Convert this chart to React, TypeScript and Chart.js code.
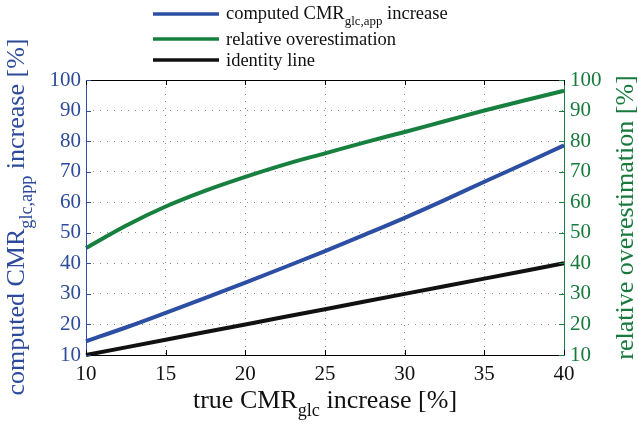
import React, { useEffect, useRef } from "react";
import { Chart, registerables } from "chart.js";

Chart.register(...registerables);

const trueIncrease = [10, 12.5, 15, 17.5, 20, 22.5, 25, 27.5, 30, 32.5, 35, 37.5, 40];
const computedIncrease = [14.5, 19.0, 23.8, 28.7, 33.7, 38.8, 44.0, 49.4, 54.9, 60.7, 66.7, 72.6, 78.6];
const relativeOverestimation = [45, 52.3, 58.6, 63.8, 68.3, 72.4, 76.0, 79.6, 83.0, 86.5, 90.0, 93.3, 96.5];
const identityLine = [10, 12.5, 15, 17.5, 20, 22.5, 25, 27.5, 30, 32.5, 35, 37.5, 40];

const xTicks = [10, 15, 20, 25, 30, 35, 40];
const yTicks = [10, 20, 30, 40, 50, 60, 70, 80, 90, 100];

const BLUE = "#2c4ea3";
const GREEN = "#17803f";
const BLUE_TXT = "#2d4b9c";
const GREEN_TXT = "#177a3c";
const FONT = "'Liberation Serif', 'Times New Roman', serif";

type Part = { t: string; sub?: boolean };

function partsWidth(ctx: CanvasRenderingContext2D, parts: Part[], size: number) {
  let w = 0;
  for (const p of parts) {
    ctx.font = `${p.sub ? size * 0.7 : size}px ${FONT}`;
    w += ctx.measureText(p.t).width;
  }
  return w;
}

function drawParts(ctx: CanvasRenderingContext2D, parts: Part[], size: number, x: number, y: number, color: string) {
  ctx.fillStyle = color;
  ctx.textBaseline = "alphabetic";
  ctx.textAlign = "left";
  let cx = x;
  for (const p of parts) {
    const s = p.sub ? size * 0.7 : size;
    ctx.font = `${s}px ${FONT}`;
    ctx.fillText(p.t, cx, p.sub ? y + size * 0.32 : y);
    cx += ctx.measureText(p.t).width;
  }
}

const decorPlugin = {
  id: "decor",
  afterDraw(chart: any) {
    const ctx: CanvasRenderingContext2D = chart.ctx;
    const { left, right, top, bottom } = chart.chartArea;
    const xs = chart.scales.x;
    const ys = chart.scales.y;
    ctx.save();
    // frame
    ctx.lineWidth = 1;
    ctx.strokeStyle = "#000";
    ctx.beginPath();
    ctx.moveTo(left, top + 0.5);
    ctx.lineTo(right, top + 0.5);
    ctx.moveTo(left, bottom + 0.5);
    ctx.lineTo(right, bottom + 0.5);
    ctx.stroke();
    ctx.strokeStyle = BLUE;
    ctx.beginPath();
    ctx.moveTo(left + 0.5, top);
    ctx.lineTo(left + 0.5, bottom + 1);
    ctx.stroke();
    ctx.strokeStyle = GREEN;
    ctx.beginPath();
    ctx.moveTo(right + 0.5, top);
    ctx.lineTo(right + 0.5, bottom + 1);
    ctx.stroke();
    // inward ticks
    const tl = 5;
    ctx.strokeStyle = "#000";
    ctx.beginPath();
    for (const v of xTicks) {
      const px = Math.round(xs.getPixelForValue(v)) + 0.5;
      ctx.moveTo(px, top);
      ctx.lineTo(px, top + tl);
      ctx.moveTo(px, bottom);
      ctx.lineTo(px, bottom - tl);
    }
    ctx.stroke();
    ctx.strokeStyle = BLUE;
    ctx.beginPath();
    for (const v of yTicks) {
      const py = Math.round(ys.getPixelForValue(v)) + 0.5;
      ctx.moveTo(left, py);
      ctx.lineTo(left + tl, py);
    }
    ctx.stroke();
    ctx.strokeStyle = GREEN;
    ctx.beginPath();
    for (const v of yTicks) {
      const py = Math.round(ys.getPixelForValue(v)) + 0.5;
      ctx.moveTo(right, py);
      ctx.lineTo(right - tl, py);
    }
    ctx.stroke();

    // legend
    const legend = [
      { color: BLUE, y: 14, base: 19, parts: [{ t: "computed CMR" }, { t: "glc,app", sub: true }, { t: " increase" }] },
      { color: GREEN, y: 39, base: 45, parts: [{ t: "relative overestimation" }] },
      { color: "#111", y: 60, base: 66, parts: [{ t: "identity line" }] },
    ];
    for (const item of legend) {
      ctx.strokeStyle = item.color;
      ctx.lineWidth = 3.5;
      ctx.beginPath();
      ctx.moveTo(153, item.y);
      ctx.lineTo(219, item.y);
      ctx.stroke();
      drawParts(ctx, item.parts as Part[], 18.5, 226, item.base, "#111");
    }

    // x title
    const xt: Part[] = [{ t: "true CMR" }, { t: "glc", sub: true }, { t: " increase [%]" }];
    const xw = partsWidth(ctx, xt, 26);
    drawParts(ctx, xt, 26, 325 - xw / 2, 408, "#111");

    // left title
    const lt: Part[] = [{ t: "computed CMR" }, { t: "glc,app", sub: true }, { t: " increase [%]" }];
    const lw = partsWidth(ctx, lt, 26);
    ctx.save();
    ctx.translate(23.5, 217);
    ctx.rotate(-Math.PI / 2);
    drawParts(ctx, lt, 26, -lw / 2, 0, BLUE_TXT);
    ctx.restore();

    // right title
    const rt: Part[] = [{ t: "relative overestimation [%]" }];
    const rw = partsWidth(ctx, rt, 26);
    ctx.save();
    ctx.translate(633, 217.5);
    ctx.rotate(-Math.PI / 2);
    drawParts(ctx, rt, 26, -rw / 2, 0, GREEN_TXT);
    ctx.restore();

    ctx.restore();
  },
};

export default function App() {
  const ref = useRef<HTMLCanvasElement | null>(null);
  useEffect(() => {
    if (!ref.current) return;
    const pts = (ys: number[]) => trueIncrease.map((x, i) => ({ x, y: ys[i] }));
    const chart = new Chart(ref.current, {
      type: "line",
      data: {
        datasets: [
          {
            label: "identity line",
            data: pts(identityLine),
            borderColor: "#111",
            borderWidth: 4,
            pointRadius: 0,
            yAxisID: "y",
            clip: 4,
          },
          {
            label: "computed CMR increase",
            data: pts(computedIncrease),
            borderColor: BLUE,
            borderWidth: 4,
            pointRadius: 0,
            cubicInterpolationMode: "monotone",
            yAxisID: "y",
            clip: 4,
          },
          {
            label: "relative overestimation",
            data: pts(relativeOverestimation),
            borderColor: GREEN,
            borderWidth: 4,
            pointRadius: 0,
            cubicInterpolationMode: "monotone",
            yAxisID: "y2",
            clip: 4,
          },
        ],
      },
      options: {
        animation: false,
        responsive: false,
        devicePixelRatio: 1,
        layout: { padding: { top: 80, left: 0, right: 0, bottom: 0 } },
        plugins: { legend: { display: false }, tooltip: { enabled: false } },
        scales: {
          x: {
            type: "linear",
            min: 10,
            max: 40,
            afterFit: (s: any) => { s.height = 74; },
            afterBuildTicks: (s: any) => { s.ticks = xTicks.map((v) => ({ value: v })); },
            ticks: { color: "#111", font: { family: FONT, size: 21 }, padding: 7 },
            grid: { color: "#8a8a8a", drawTicks: false, lineWidth: 1 },
            border: { display: false, dash: [1, 6] },
          },
          y: {
            type: "linear",
            position: "left",
            min: 10,
            max: 100,
            afterFit: (s: any) => { s.width = 86; },
            afterBuildTicks: (s: any) => { s.ticks = yTicks.map((v) => ({ value: v })); },
            ticks: { color: BLUE_TXT, font: { family: FONT, size: 21 }, padding: 5 },
            grid: { color: "#8a8a8a", drawTicks: false, lineWidth: 1 },
            border: { display: false, dash: [1, 6] },
          },
          y2: {
            type: "linear",
            position: "right",
            min: 10,
            max: 100,
            afterFit: (s: any) => { s.width = 74; },
            afterBuildTicks: (s: any) => { s.ticks = yTicks.map((v) => ({ value: v })); },
            ticks: { color: GREEN_TXT, font: { family: FONT, size: 21 }, padding: 6 },
            grid: { display: false, drawTicks: false },
            border: { display: false },
          },
        },
      },
      plugins: [decorPlugin],
    } as any);
    return () => chart.destroy();
  }, []);
  return (
    <div style={{ position: "absolute", left: 0, top: 0, width: 638, height: 429, background: "#fff" }}>
      <canvas ref={ref} width={638} height={429} />
    </div>
  );
}
